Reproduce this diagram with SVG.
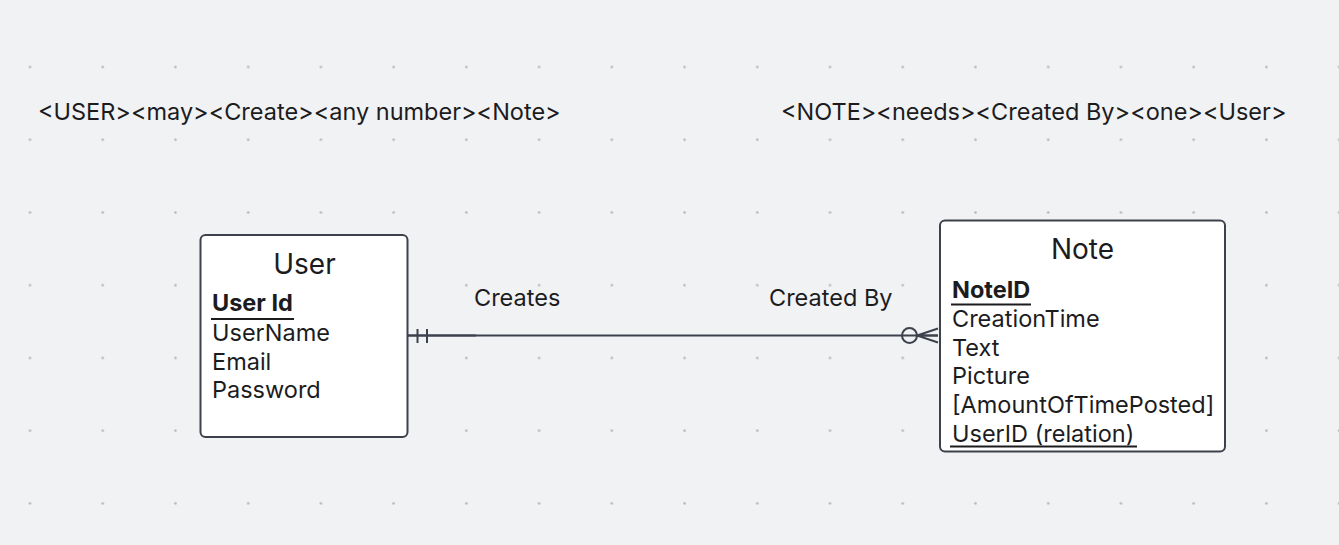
<svg xmlns="http://www.w3.org/2000/svg" width="1339" height="545" viewBox="0 0 1339 545">
  <defs>
    <pattern id="grid" patternUnits="userSpaceOnUse" x="-6.36" y="30.64" width="72.73" height="72.73">
      <circle cx="36.36" cy="36.36" r="1.3" fill="#b4b6ba"/>
    </pattern>
  </defs>
  <style>
    text { font-family: Inter, "Noto Sans", "Liberation Sans", sans-serif; fill: #1c1c1e; }
    .title { font-size: 28px; text-anchor: middle; }
    .attr { font-size: 23.5px; }
    .key { font-size: 23.5px; font-weight: bold; }
    .lbl { font-size: 23.5px; }
    .box { fill: #ffffff; stroke: #3c414c; stroke-width: 2; }
    .ul { stroke: #1c1c1e; stroke-width: 2; }
    .conn { stroke: #3c414c; stroke-width: 2; fill: none; }
  </style>
  <rect width="1339" height="545" fill="#f1f2f4"/>
  <rect width="1339" height="545" fill="url(#grid)"/>

  <g id="caption-user">
    <text class="lbl" x="38" y="120">&lt;USER&gt;&lt;may&gt;&lt;Create&gt;&lt;any number&gt;&lt;Note&gt;</text>
  </g>
  <g id="caption-note">
    <text class="lbl" x="781" y="120">&lt;NOTE&gt;&lt;needs&gt;&lt;Created By&gt;&lt;one&gt;&lt;User&gt;</text>
  </g>

  <g id="connectors">
    <line class="conn" x1="407" y1="335.5" x2="938" y2="335.5"/>
    <line class="conn" x1="407" y1="335.5" x2="476" y2="335.5" stroke-width="2.5"/>
    <line class="conn" x1="417.5" y1="329" x2="417.5" y2="343"/>
    <line class="conn" x1="427" y1="329" x2="427" y2="343"/>
    <circle class="conn" cx="909.5" cy="335.5" r="7.5" fill="#ffffff"/>
    <path class="conn" d="M938 328.5 L917 335.5 L938 342.5 M917 335.5 L938 335.5"/>
    <text class="lbl" x="474" y="306">Creates</text>
    <text class="lbl" x="769" y="306">Created By</text>
  </g>

  <g id="user">
    <rect class="box" x="200.5" y="235" width="207" height="202" rx="5"/>
    <text class="title" x="304.5" y="274">User</text>
    <text class="key" x="212" y="311">User Id</text>
    <line class="ul" x1="211" y1="319" x2="294" y2="319"/>
    <text class="attr" x="212" y="341">UserName</text>
    <text class="attr" x="212" y="370">Email</text>
    <text class="attr" x="212" y="398">Password</text>
  </g>

  <g id="note">
    <rect class="box" x="940" y="220.5" width="285" height="231" rx="5"/>
    <text class="title" x="1082.5" y="259">Note</text>
    <text class="key" x="952" y="298">NoteID</text>
    <line class="ul" x1="951" y1="304.5" x2="1031" y2="304.5"/>
    <text class="attr" x="952" y="327">CreationTime</text>
    <text class="attr" x="952" y="356">Text</text>
    <text class="attr" x="952" y="384">Picture</text>
    <text class="attr" x="952" y="413">[AmountOfTimePosted]</text>
    <text class="attr" x="952" y="442">UserID (relation)</text>
    <line class="ul" x1="950" y1="446.5" x2="1137" y2="446.5"/>
  </g>
</svg>
